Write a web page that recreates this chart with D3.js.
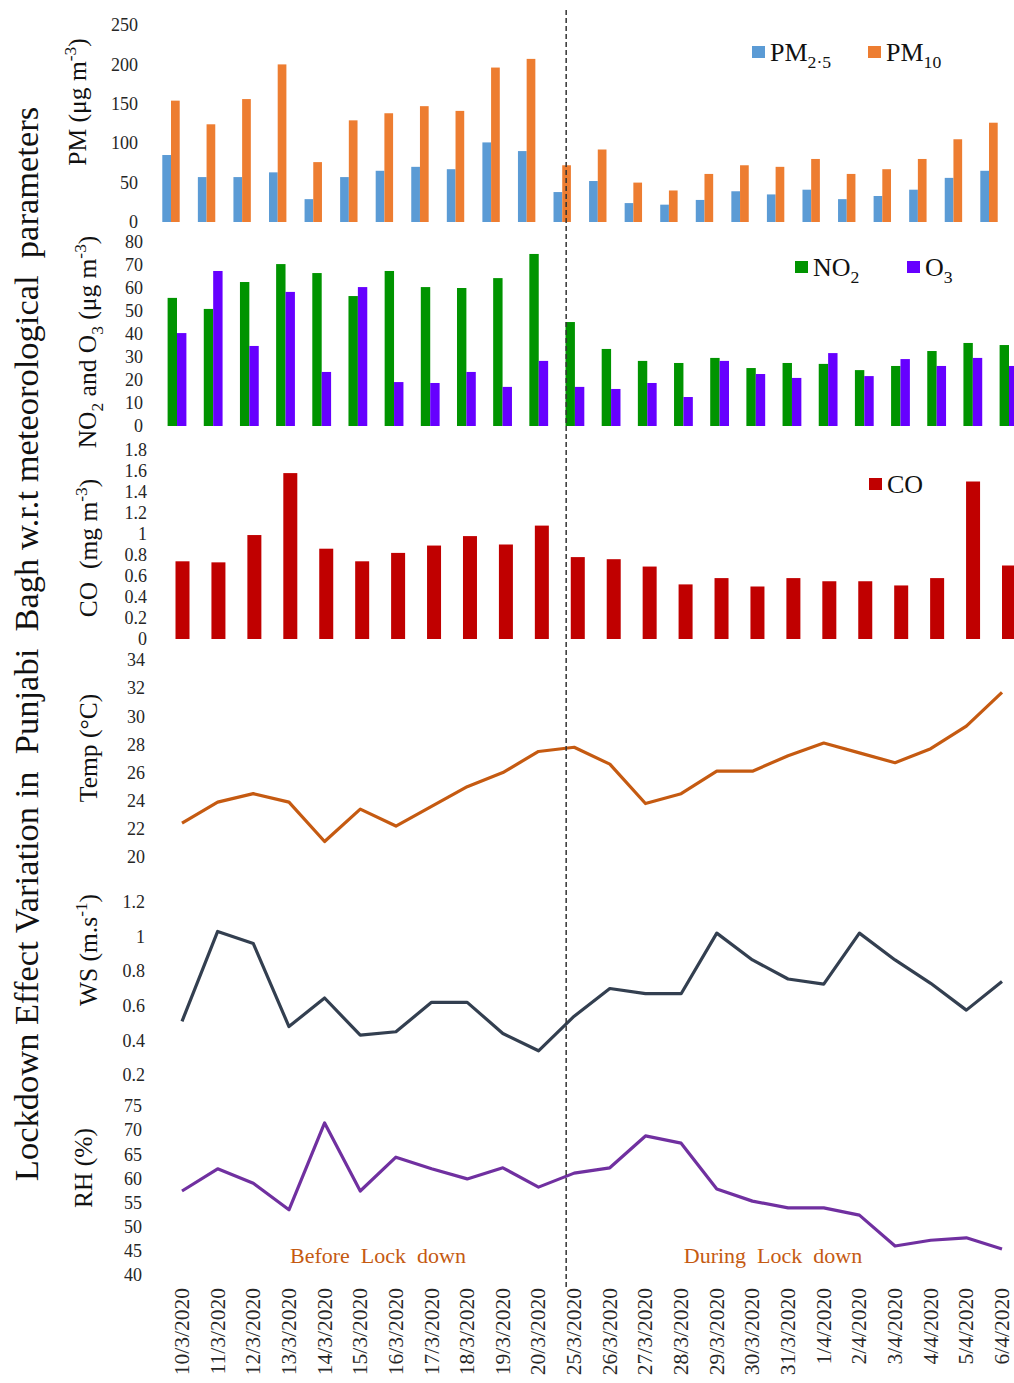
<!DOCTYPE html>
<html>
<head>
<meta charset="utf-8">
<script src="https://cdn.jsdelivr.net/npm/d3@7"></script>
<style>
  body { margin: 0; background: #fff; }
  svg { display: block; font-family: "Liberation Serif", "Times New Roman", serif; }
</style>
</head>
<body>
<svg id="chart"></svg>
<script>
// dates on the x axis
const dates = ["10/3/2020","11/3/2020","12/3/2020","13/3/2020","14/3/2020","15/3/2020",
  "16/3/2020","17/3/2020","18/3/2020","19/3/2020","20/3/2020","25/3/2020","26/3/2020",
  "27/3/2020","28/3/2020","29/3/2020","30/3/2020","31/3/2020","1/4/2020","2/4/2020",
  "3/4/2020","4/4/2020","5/4/2020","6/4/2020"];

// pollutants
const pm25 = [85,57,57,63,29,57,65,70,67,101,90,38,52,24,22,28,39,35,41,29,33,41,56,65];
const pm10 = [154,124,156,200,76,129,138,147,141,196,207,72,92,50,40,61,72,70,80,61,67,80,105,126];
const no2 = [55.7,50.9,62.6,70.4,66.5,56.5,67.4,60.4,60.0,64.3,74.8,45.2,33.5,28.3,27.4,29.6,25.2,27.4,27.0,24.3,26.1,32.6,36.1,35.2];
const o3 = [40.4,67.4,34.8,58.3,23.5,60.4,19.1,18.7,23.5,17.0,28.3,17.0,16.1,18.7,12.6,28.3,22.6,20.9,31.7,21.7,29.1,26.1,29.6,26.1];
const co = [0.74,0.73,0.99,1.58,0.86,0.74,0.82,0.89,0.98,0.90,1.08,0.78,0.76,0.69,0.52,0.58,0.50,0.58,0.55,0.55,0.51,0.58,1.50,0.70];

// meteorology
const temp = [22.4,23.9,24.5,23.9,21.1,23.4,22.2,23.6,25.0,26.0,27.5,27.8,26.6,23.8,24.5,26.1,26.1,27.2,28.1,27.4,26.7,27.7,29.3,31.7];
const ws = [0.51,1.03,0.96,0.48,0.645,0.43,0.45,0.62,0.62,0.44,0.34,0.54,0.70,0.67,0.67,1.02,0.865,0.755,0.725,1.02,0.865,0.73,0.575,0.74];
const rh = [57.4,62.0,59.0,53.5,71.5,57.4,64.4,62.0,59.9,62.2,58.2,61.1,62.2,68.8,67.3,57.8,55.3,53.9,53.9,52.4,46.0,47.2,47.7,45.4];

// tick labels
const pmTicks = [0,50,100,150,200,250];
const no2Ticks = [0,10,20,30,40,50,60,70,80];
const coTicks = [0,0.2,0.4,0.6,0.8,1,1.2,1.4,1.6,1.8];
const tempTicks = [20,22,24,26,28,30,32,34];
const wsTicks = [0.2,0.4,0.6,0.8,1,1.2];
const rhTicks = [40,45,50,55,60,65,70,75];

const width = 1014, height = 1383;
const svg = d3.select("#chart").attr("width", width).attr("height", height);
svg.append("rect").attr("width", width).attr("height", height).attr("fill", "#fff");

const tickColor = "#262626";

// writes text with sub/superscript pieces
function rich(sel, parts, size) {
  let cur = 0;
  parts.forEach(([txt, kind]) => {
    const shift = kind === "sub" ? size * 0.28 : kind === "sup" ? -size * 0.38 : 0;
    sel.append("tspan")
      .attr("dy", shift - cur)
      .attr("font-size", kind ? size * 0.68 : size)
      .text(txt);
    cur = shift;
  });
}

function yAxis(scale, ticks, x, fmt) {
  const g = svg.append("g")
    .attr("transform", "translate(" + x + ",0)")
    .call(d3.axisLeft(scale).tickValues(ticks).tickSize(0).tickPadding(0)
      .tickFormat(fmt || (d => +d.toFixed(1))));
  g.select(".domain").remove();
  g.attr("font-family", null).attr("font-size", 18);
  g.selectAll("text").attr("fill", tickColor);
  return g;
}

function yTitle(parts, x, y, size) {
  const t = svg.append("text")
    .attr("transform", "translate(" + x + "," + y + ") rotate(-90)")
    .attr("text-anchor", "middle")
    .attr("font-size", size)
    .attr("fill", "#111");
  rich(t, parts, size);
}

function legendItem(x, y, color, parts) {
  svg.append("rect").attr("x", x).attr("y", y - 15).attr("width", 13).attr("height", 12).attr("fill", color);
  const t = svg.append("text").attr("x", x + 18).attr("y", y).attr("font-size", 26).attr("fill", "#111");
  rich(t, parts, 26);
}

// ---------- PM panel ----------
const xPM = d3.scalePoint().domain(dates).range([171, 989]);
const yPM = d3.scaleLinear().domain([0, 250]).range([222, 25]);
const pmW = 8.7;
svg.append("g").selectAll("rect").data(dates).enter().append("rect")
  .attr("x", d => xPM(d) - pmW).attr("width", pmW)
  .attr("y", (d, i) => yPM(pm25[i])).attr("height", (d, i) => yPM(0) - yPM(pm25[i]))
  .attr("fill", "#5b9bd5");
svg.append("g").selectAll("rect").data(dates).enter().append("rect")
  .attr("x", d => xPM(d)).attr("width", pmW)
  .attr("y", (d, i) => yPM(pm10[i])).attr("height", (d, i) => yPM(0) - yPM(pm10[i]))
  .attr("fill", "#ed7d31");
yAxis(yPM, pmTicks, 138);
yTitle([["PM (μg m"], ["-3", "sup"], [")"]], 86, 102, 25.5);
legendItem(752, 61, "#5b9bd5", [["PM"], ["2·5", "sub"]]);
legendItem(868, 61, "#ed7d31", [["PM"], ["10", "sub"]]);

// ---------- NO2 / O3 panel ----------
const xNO = d3.scalePoint().domain(dates).range([177, 1009]);
const yNO = d3.scaleLinear().domain([0, 80]).range([426, 242]);
const noW = 9.4;
svg.append("g").selectAll("rect").data(dates).enter().append("rect")
  .attr("x", d => xNO(d) - noW).attr("width", noW)
  .attr("y", (d, i) => yNO(no2[i])).attr("height", (d, i) => yNO(0) - yNO(no2[i]))
  .attr("fill", "#009400");
svg.append("g").selectAll("rect").data(dates).enter().append("rect")
  .attr("x", d => xNO(d)).attr("width", noW)
  .attr("y", (d, i) => yNO(o3[i])).attr("height", (d, i) => yNO(0) - yNO(o3[i]))
  .attr("fill", "#6600ff");
yAxis(yNO, no2Ticks, 143);
yTitle([["NO"], ["2", "sub"], [" and O"], ["3", "sub"], [" (μg m"], ["-3", "sup"], [")"]], 96, 342, 25.5);
legendItem(795, 276, "#009400", [["NO"], ["2", "sub"]]);
legendItem(907, 276, "#6600ff", [["O"], ["3", "sub"]]);

// ---------- CO panel ----------
const xCO = d3.scalePoint().domain(dates).range([182.5, 1009]);
const yCO = d3.scaleLinear().domain([0, 1.8]).range([639, 450]);
const coW = 14;
svg.append("g").selectAll("rect").data(dates).enter().append("rect")
  .attr("x", d => xCO(d) - coW / 2).attr("width", coW)
  .attr("y", (d, i) => yCO(co[i])).attr("height", (d, i) => yCO(0) - yCO(co[i]))
  .attr("fill", "#c00000");
yAxis(yCO, coTicks, 147);
yTitle([["CO\u00a0\u00a0(mg m"], ["-3", "sup"], [")"]], 97, 548, 25.5);
legendItem(869, 493, "#c00000", [["CO"]]);

// ---------- line panels ----------
const xLine = d3.scalePoint().domain(dates).range([182, 1002]);

function linePanel(values, y, color) {
  const line = d3.line().x((d, i) => xLine(dates[i])).y(d => y(d));
  svg.append("path").datum(values)
    .attr("d", line).attr("fill", "none")
    .attr("stroke", color).attr("stroke-width", 3.2)
    .attr("stroke-linejoin", "round");
}

const yT = d3.scaleLinear().domain([20, 34]).range([857, 660]);
linePanel(temp, yT, "#c55a11");
yAxis(yT, tempTicks, 145);
yTitle([["Temp (°C)"]], 97, 748, 25.5);

const yW = d3.scaleLinear().domain([0, 1.2]).range([1109.6, 902]);
linePanel(ws, yW, "#333f50");
yAxis(yW, wsTicks, 145);
yTitle([["WS (m.s"], ["-1", "sup"], [")"]], 97, 950, 25.5);

const yR = d3.scaleLinear().domain([40, 75]).range([1275, 1106]);
linePanel(rh, yR, "#7030a0");
yAxis(yR, rhTicks, 142);
yTitle([["RH (%)"]], 92, 1168, 25.5);

// ---------- date axis ----------
const xg = svg.append("g").attr("transform", "translate(0,1288)")
  .call(d3.axisBottom(xLine).tickSize(0).tickPadding(0));
xg.select(".domain").remove();
xg.attr("font-family", null).attr("font-size", 21.5);
xg.selectAll("text")
  .attr("fill", tickColor)
  .attr("x", 0).attr("y", 0).attr("dy", "0.3em")
  .attr("text-anchor", "end")
  .attr("transform", "rotate(-90)");

// lockdown divider
const divX = xLine("25/3/2020") - 8;
svg.append("line")
  .attr("x1", divX).attr("x2", divX).attr("y1", 10).attr("y2", 1290)
  .attr("stroke", "#333").attr("stroke-width", 1.5).attr("stroke-dasharray", "5,3");

svg.append("text").attr("x", 378).attr("y", 1263).attr("text-anchor", "middle")
  .attr("font-size", 22).attr("fill", "#c55a11").text("Before\u00a0 Lock\u00a0 down");
svg.append("text").attr("x", 773).attr("y", 1263).attr("text-anchor", "middle")
  .attr("font-size", 22).attr("fill", "#c55a11").text("During\u00a0 Lock\u00a0 down");

// main title
svg.append("text")
  .attr("transform", "translate(38,644) rotate(-90)")
  .attr("text-anchor", "middle")
  .attr("font-size", 34.5).attr("fill", "#111")
  .text("Lockdown Effect Variation in\u00a0 Punjabi\u00a0 Bagh w.r.t meteorological\u00a0 parameters");
</script>
</body>
</html>
